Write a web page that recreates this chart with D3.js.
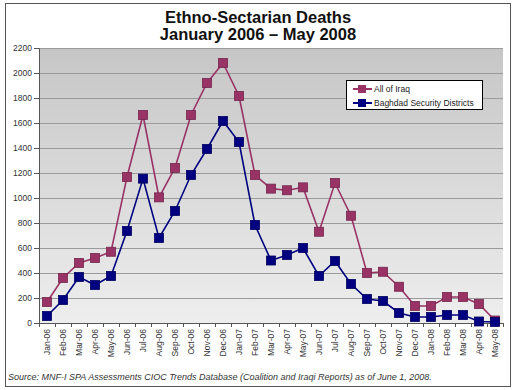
<!DOCTYPE html>
<html><head><meta charset="utf-8">
<script src="https://cdn.jsdelivr.net/npm/d3@7"></script>
<style>body{margin:0;background:#fff;}svg{display:block;font-family:Arial,"Liberation Sans",sans-serif;}</style>
</head><body><svg id="c" width="515" height="390"></svg>
<script>
const months = ["Jan-06","Feb-06","Mar-06","Apr-06","May-06","Jun-06","Jul-06","Aug-06","Sep-06","Oct-06","Nov-06","Dec-06",
"Jan-07","Feb-07","Mar-07","Apr-07","May-07","Jun-07","Jul-07","Aug-07","Sep-07","Oct-07","Nov-07","Dec-07",
"Jan-08","Feb-08","Mar-08","Apr-08","May-08"];
const allIraq = [168,360,480,520,570,1168,1664,1005,1240,1664,1920,2080,1816,1184,1075,1062,1085,730,1120,858,400,410,290,136,136,208,208,152,20];
const baghdad = [56,184,368,304,376,736,1155,680,896,1184,1392,1616,1448,784,500,544,600,376,496,312,192,176,80,48,48,64,64,12,8];
const yTicks = [0,200,400,600,800,1000,1200,1400,1600,1800,2000,2200];
const seriesNames = ["All of Iraq","Baghdad Security Districts"];
const colors = ["#993366","#000080"];

const svg = d3.select("#c");
const L=39, R=503, T=48, B=323;
const x = d3.scaleBand().domain(months).range([L,R]);
const y = d3.scaleLinear().domain([0,2200]).range([B,T]);

// frame
svg.append("rect").attr("x",5.5).attr("y",3.5).attr("width",505).attr("height",383)
  .attr("fill","#fff").attr("stroke","#555").attr("stroke-width",1);

// plot background gradient
const defs = svg.append("defs");
const g = defs.append("linearGradient").attr("id","bg").attr("x1",0).attr("y1",0).attr("x2",0).attr("y2",1);
g.append("stop").attr("offset","0%").attr("stop-color","#c6c6c6");
g.append("stop").attr("offset","100%").attr("stop-color","#eeeeee");
svg.append("rect").attr("x",L).attr("y",T).attr("width",R-L).attr("height",B-T).attr("fill","url(#bg)");

// gridlines
svg.append("g").selectAll("line").data(yTicks.filter(d=>d>0)).join("line")
  .attr("x1",L).attr("x2",R).attr("y1",d=>Math.round(y(d))+0.5).attr("y2",d=>Math.round(y(d))+0.5)
  .attr("stroke","#9a9a9a").attr("stroke-width",1);

// title
svg.append("text").attr("x",258).attr("y",23).attr("text-anchor","middle").attr("font-weight","bold").attr("font-size",16.5).attr("fill","#111").text("Ethno-Sectarian Deaths");
svg.append("text").attr("x",258).attr("y",40).attr("text-anchor","middle").attr("font-weight","bold").attr("font-size",16.5).attr("fill","#111").text("January 2006 \u2013 May 2008");

// y axis
const ya = svg.append("g").attr("transform",`translate(${L},0)`).call(d3.axisLeft(y).tickValues(yTicks).tickFormat(d3.format("d")).tickSize(5).tickPadding(2));
ya.select(".domain").attr("stroke","#555");
ya.selectAll(".tick line").attr("stroke","#555");
ya.selectAll("text").attr("font-size",8.5).attr("fill","#333").attr("font-family","Arial,'Liberation Sans',sans-serif");

// x axis
const xa = svg.append("g").attr("transform",`translate(0,${B})`).call(d3.axisBottom(x).tickSize(0).tickPadding(0));
xa.select(".domain").attr("stroke","#555");
xa.selectAll(".tick text").attr("font-size",8.5).attr("fill","#333").attr("font-family","Arial,'Liberation Sans',sans-serif")
  .attr("text-anchor","end").attr("transform","translate(3,6) rotate(-90)").attr("dy",0).attr("y",0).attr("x",0);
svg.append("g").selectAll("line").data(months.concat(["_end"])).join("line")
  .attr("x1",(d,i)=>Math.round(L+i*x.bandwidth())+0.5).attr("x2",(d,i)=>Math.round(L+i*x.bandwidth())+0.5)
  .attr("y1",B).attr("y2",B+4).attr("stroke","#555");

// series
const series = [allIraq, baghdad];
const line = d3.line().x((d,i)=>x(months[i])+x.bandwidth()/2).y(d=>y(d));
series.forEach((vals,k)=>{
  svg.append("path").datum(vals).attr("d",line).attr("fill","none").attr("stroke",colors[k]).attr("stroke-width",1.6);
  svg.append("g").selectAll("rect").data(vals).join("rect")
    .attr("x",(d,i)=>x(months[i])+x.bandwidth()/2-4.5).attr("y",d=>y(d)-4.5)
    .attr("width",9).attr("height",9).attr("fill",colors[k]).attr("stroke",d3.color(colors[k]).darker(0.8)).attr("stroke-width",0.8);
});

// legend
const lg = svg.append("g");
lg.append("rect").attr("x",346.5).attr("y",80.5).attr("width",136).attr("height",29).attr("fill","#fff").attr("stroke","#000").attr("stroke-width",1);
seriesNames.forEach((n,k)=>{
  const yy = 89 + k*14;
  lg.append("line").attr("x1",353).attr("x2",372).attr("y1",yy).attr("y2",yy).attr("stroke",colors[k]).attr("stroke-width",2);
  lg.append("rect").attr("x",358).attr("y",yy-4).attr("width",8).attr("height",8).attr("fill",colors[k]);
  lg.append("text").attr("x",374).attr("y",yy+3).attr("font-size",8.5).attr("fill","#222").text(n);
});

// source
svg.append("text").attr("x",8).attr("y",380).attr("font-size",9).attr("font-style","italic").attr("fill","#333")
  .text("Source:  MNF-I SPA Assessments CIOC Trends Database (Coalition and Iraqi Reports)  as of June 1, 2008.");
</script></body></html>
